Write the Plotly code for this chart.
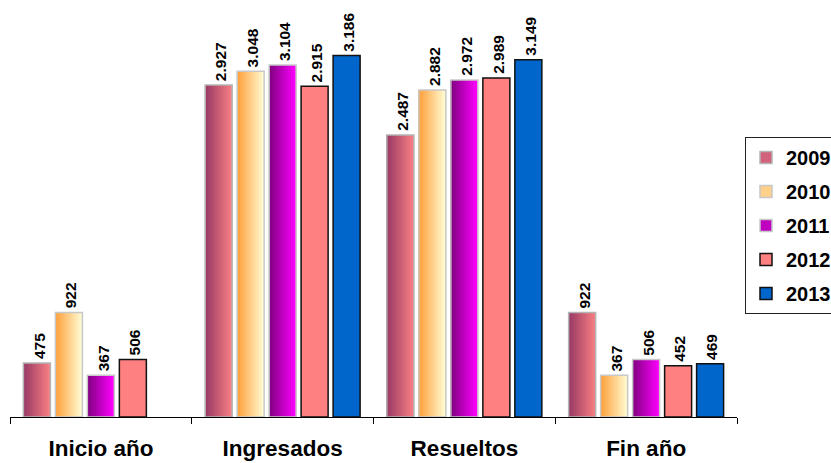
import plotly.graph_objects as go

# ---------------- data ----------------
categories = ["Inicio año", "Ingresados", "Resueltos", "Fin año"]
years = ["2009", "2010", "2011", "2012", "2013"]
v2009 = [475, 2927, 2487, 922]
v2010 = [922, 3048, 2882, 367]
v2011 = [367, 3104, 2972, 506]
v2012 = [506, 2915, 2989, 452]
v2013 = [None, 3186, 3149, 469]
series = [v2009, v2010, v2011, v2012, v2013]

# ---------------- styles ----------------
styles = [
    dict(grad=((150, 55, 100), (248, 128, 132)), line="#b4b4b4", legend="#d0627c"),
    dict(grad=((255, 158, 55), (255, 252, 212)), line="#c8c8c8", legend="#ffd08a"),
    dict(grad=((125, 0, 125), (255, 0, 255)), line="#c8c8c8", legend="#c000c0"),
    dict(solid="#ff8080", line="#111111", legend="#ff8080"),
    dict(solid="#0066cc", line="#111111", legend="#0066cc"),
]

FONT = "Arial, Liberation Sans, sans-serif"
LABEL_FONT = dict(family=FONT, size=15.5, color="black", weight="bold")
slot = 0.176      # category units per series slot
bw = 0.1486       # bar width
start = -0.44
NSTRIP = 18


def fmt(v):
    return f"{v:,}".replace(",", ".")


fig = go.Figure()
annotations = []

for k, (vals, st) in enumerate(zip(series, styles)):
    off = start + k * slot + (slot - bw) / 2
    if "grad" in st:
        (r0, g0, b0), (r1, g1, b1) = st["grad"]
        sw = bw / NSTRIP
        for i in range(NSTRIP):
            t = (i + 0.5) / NSTRIP
            c = f"rgb({int(r0+(r1-r0)*t)},{int(g0+(g1-g0)*t)},{int(b0+(b1-b0)*t)})"
            fig.add_trace(go.Bar(
                x=categories, y=vals, offset=off + i * sw, width=sw * 1.08,
                marker=dict(color=c, line=dict(width=0)),
                showlegend=False, hoverinfo="skip"))
        fill = "rgba(0,0,0,0)"
    else:
        fill = st["solid"]
    fig.add_trace(go.Bar(
        x=categories, y=vals, offset=off, width=bw,
        marker=dict(color=fill, line=dict(color=st["line"], width=1.5)),
        showlegend=False, name=years[k]))
    fig.add_trace(go.Bar(
        x=[None], y=[None], name=years[k], legendgroup=years[k],
        marker=dict(color=st["legend"], line=dict(color=st["line"], width=1.5))))
    # value labels (rotated) above each bar
    for ci, v in enumerate(vals):
        if v is None:
            continue
        annotations.append(dict(
            x=ci + off + bw / 2, y=v, xref="x", yref="y",
            text=fmt(v), textangle=-90, showarrow=False,
            xanchor="center", yanchor="bottom", xshift=2, yshift=2,
            font=LABEL_FONT))

fig.update_layout(
    width=831, height=463,
    barmode="overlay",
    annotations=annotations,
    paper_bgcolor="white", plot_bgcolor="white",
    margin=dict(l=10, r=94, t=20, b=46, autoexpand=False),
    font=dict(family=FONT, color="black"),
    legend=dict(x=1.011, y=0.705, xanchor="left", yanchor="top",
                bordercolor="#222222", borderwidth=1, bgcolor="white",
                font=dict(family=FONT, size=20, color="black", weight="bold"),
                tracegroupgap=5, traceorder="grouped"),
    xaxis=dict(type="category", categoryorder="array", categoryarray=categories,
               range=[-0.5, 3.5], showline=True, linecolor="black", linewidth=1,
               ticks="outside", ticklen=6, tickcolor="black", tickson="boundaries",
               ticklabelstandoff=11, showgrid=False, zeroline=False,
               tickfont=dict(family=FONT, size=22.5, color="black", weight="bold")),
    yaxis=dict(range=[0, 3500], visible=False, showgrid=False, zeroline=False),
)

fig.write_html("out.html", config={"displayModeBar": False},
               post_script="document.body.style.margin='0';document.body.style.overflow='hidden';")
